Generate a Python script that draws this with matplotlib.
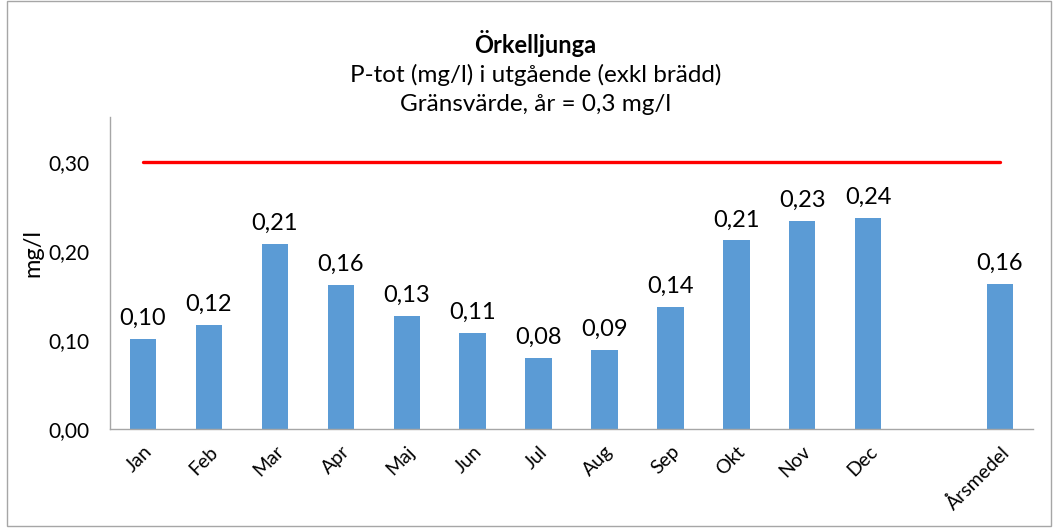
import numpy as np
import matplotlib.pyplot as plt
from matplotlib.patches import Rectangle

# Data
categories = ['Jan', 'Feb', 'Mar', 'Apr', 'Maj', 'Jun', 'Jul', 'Aug', 'Sep',
              'Okt', 'Nov', 'Dec', '', 'Årsmedel']
values = [0.101, 0.117, 0.208, 0.162, 0.127, 0.108, 0.080, 0.089, 0.137,
          0.212, 0.234, 0.237, np.nan, 0.163]
limit_value = 0.3

plt.rcParams['font.family'] = ['Lato', 'DejaVu Sans']

fig = plt.figure(figsize=(10.56, 5.28), dpi=100)
ax = fig.add_axes([0.1042, 0.1875, 0.8740, 0.5905])

x = np.arange(len(categories))
bars = ax.bar(x, values, width=0.4, color='#5B9BD5', zorder=2)

# Limit line from first to last category
ax.plot([x[0], x[-1]], [limit_value, limit_value], color='#FF0000', linewidth=2.4,
        solid_capstyle='round', zorder=3)

for xi, v in zip(x, values):
    if np.isnan(v):
        continue
    ax.text(xi, v + 0.011, f'{v:.2f}'.replace('.', ','), ha='center', va='bottom',
            fontsize=17, color='#000000')

ax.set_xlim(-0.5, len(categories) - 0.5)
ax.set_ylim(0, 0.35)
ax.set_yticks([0, 0.1, 0.2, 0.3])
ax.set_yticklabels(['0,00', '0,10', '0,20', '0,30'], fontsize=15)
ax.set_xticks(x)
ax.set_xticklabels(categories, rotation=45, ha='right', rotation_mode='anchor', fontsize=14)
ax.tick_params(axis='x', length=0, pad=10)
ax.tick_params(axis='y', length=0, pad=15)

for s in ['top', 'right']:
    ax.spines[s].set_visible(False)
for s in ['left', 'bottom']:
    ax.spines[s].set_color('#A6A6A6')
    ax.spines[s].set_linewidth(1.0)

fig.text(0.031, 0.52, 'mg/l', rotation=90, ha='center', va='center', fontsize=17)

fig.text(0.507, 0.917, 'Örkelljunga', ha='center', va='center', fontsize=17, fontweight='bold')
fig.text(0.507, 0.858, 'P-tot (mg/l) i utgående (exkl brädd)', ha='center', va='center', fontsize=17.5)
fig.text(0.507, 0.803, 'Gränsvärde, år = 0,3 mg/l', ha='center', va='center', fontsize=17.5)

# Chart area border
fig.patches.append(Rectangle((0.007, 0.004), 0.988, 0.994, transform=fig.transFigure,
                             fill=False, edgecolor='#A6A6A6', linewidth=1.0))

plt.savefig('out.png', dpi=100)
plt.close()
